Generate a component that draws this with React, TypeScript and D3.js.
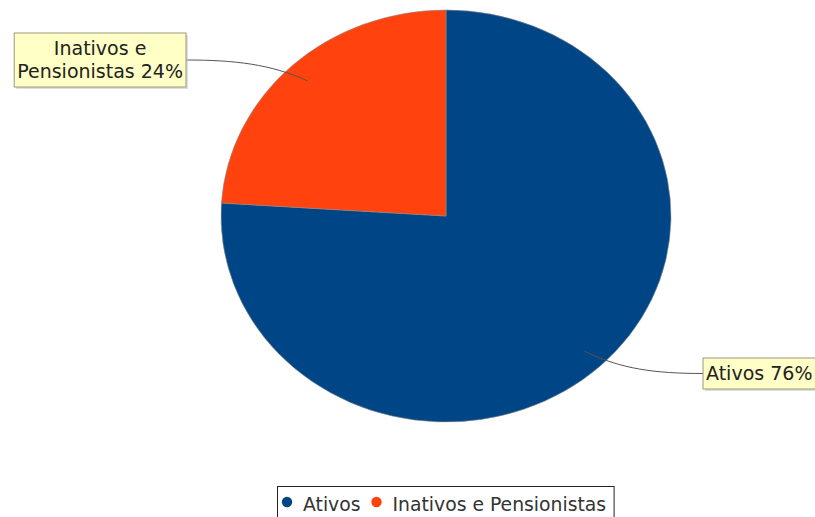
import React, { useEffect, useRef } from "react";
import * as d3 from "d3";

const categories = ["Ativos", "Inativos e Pensionistas"];
const values = [76, 24];
const labelTexts = [["Ativos 76%"], ["Inativos e", "Pensionistas 24%"]];
const colors = ["#004586", "#ff420e"];

const W = 815;
const H = 517;
const FONT = "DejaVu Sans, sans-serif";

export default function App() {
  const ref = useRef<SVGSVGElement | null>(null);

  useEffect(() => {
    const svg = d3.select(ref.current);
    svg.selectAll("*").remove();

    const cx = 446, cy = 216, rx = 225, ry = 206;
    const pie = d3.pie<number>().sort(null).value((d) => d).startAngle(0).endAngle(2 * Math.PI);
    const arcs = pie(values);
    const arc = d3.arc<d3.PieArcDatum<number>>().innerRadius(0).outerRadius(1);

    const g = svg.append("g").attr("transform", `translate(${cx},${cy}) scale(${rx},${ry})`);
    g.selectAll("path")
      .data(arcs)
      .join("path")
      .attr("d", (d) => arc(d) as string)
      .attr("fill", (_, i) => colors[i])
      .attr("stroke", "#8a8a8a")
      .attr("stroke-width", 0.6)
      .attr("vector-effect", "non-scaling-stroke");

    const pt = (a: number, k: number) => [cx + k * rx * Math.sin(a), cy - k * ry * Math.cos(a)];

    // label boxes: [anchor x of box, center y, side]
    const boxes = [
      { x: 703, yc: 373.5, side: "right" },
      { x: 186, yc: 60, side: "left" },
    ];
    const lineH = 23, padX = 3, padY = 4, fs = 19;

    arcs.forEach((d, i) => {
      const mid = (d.startAngle + d.endAngle) / 2;
      const b = boxes[i];
      const lines = labelTexts[i];
      // measure text
      const tmp = svg.append("text").attr("font-family", FONT).attr("font-size", fs);
      let maxW = 0;
      lines.forEach((l) => {
        tmp.text(l);
        maxW = Math.max(maxW, (tmp.node() as SVGTextElement).getComputedTextLength());
      });
      tmp.remove();
      const bw = maxW + padX * 2;
      const bh = lines.length * lineH + padY * 2;
      const bx = b.side === "right" ? b.x : b.x - bw;
      const by = b.yc - bh / 2;

      // leader line
      const [sx, sy] = pt(mid, 0.9);
      const ex = b.x, ey = b.yc;
      const p1x = sx + (ex - sx) * 0.3, p1y = sy + (ey - sy) * 0.8;
      const p2x = sx + (ex - sx) * 0.6, p2y = ey;
      svg.append("path")
        .attr("d", `M${sx},${sy} C${p1x},${p1y} ${p2x},${p2y} ${ex},${ey}`)
        .attr("fill", "none")
        .attr("stroke", "#555")
        .attr("stroke-width", 1);

      svg.append("rect")
        .attr("x", bx + 2).attr("y", by + 2).attr("width", bw).attr("height", bh)
        .attr("fill", "#c8c8c8").attr("opacity", 0.6);
      svg.append("rect")
        .attr("x", bx).attr("y", by).attr("width", bw).attr("height", bh)
        .attr("fill", "#ffffc6").attr("stroke", "#9a9a7a").attr("stroke-width", 1);
      lines.forEach((l, j) => {
        svg.append("text")
          .attr("x", bx + bw / 2)
          .attr("y", by + padY + lineH * j + 17.5)
          .attr("text-anchor", "middle")
          .attr("font-family", FONT)
          .attr("font-size", fs)
          .attr("fill", "#222")
          .text(l);
      });
    });

    // legend
    const lfs = 18.8;
    const lg = svg.append("g");
    let x = 287;
    const ly = 511;
    const items: { cx: number; tx: number; w: number }[] = [];
    categories.forEach((c) => {
      const t = lg.append("text").attr("font-family", FONT).attr("font-size", lfs).attr("fill", "#333").text(c);
      const w = (t.node() as SVGTextElement).getComputedTextLength();
      t.attr("x", x + 16).attr("y", ly);
      items.push({ cx: x, tx: x + 16, w });
      x = x + 16 + w + 16;
    });
    items.forEach((it, i) => {
      lg.append("circle").attr("cx", it.cx).attr("cy", 502).attr("r", 5.2).attr("fill", colors[i]);
    });
    const last = items[items.length - 1];
    lg.insert("rect", ":first-child")
      .attr("x", 277.5).attr("y", 486.5)
      .attr("width", last.tx + last.w + 8 - 277.5)
      .attr("height", 32)
      .attr("fill", "white")
      .attr("stroke", "#222")
      .attr("stroke-width", 1);
  }, []);

  return (
    <svg
      ref={ref}
      width={W}
      height={H}
      style={{ position: "absolute", left: 0, top: 0, background: "white" }}
    />
  );
}
